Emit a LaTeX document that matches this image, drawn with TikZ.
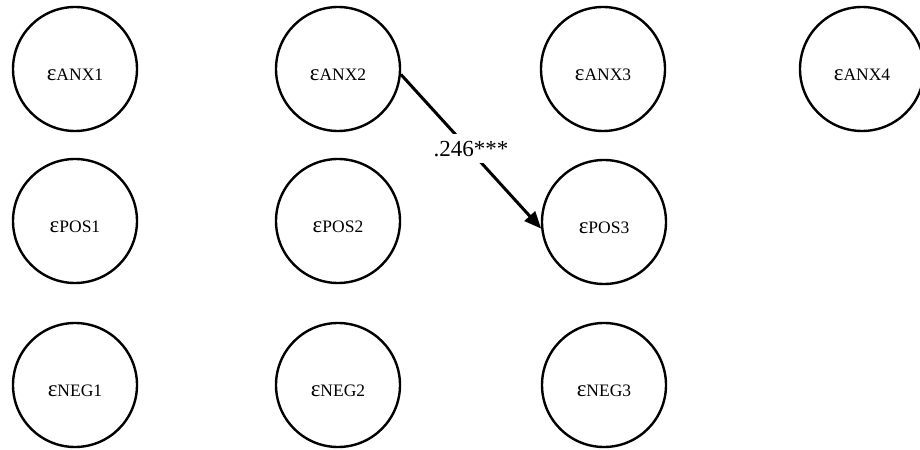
\documentclass[tikz,border=0pt]{standalone}
\usepackage{fontspec}
\setmainfont{Liberation Serif}
\usetikzlibrary{arrows.meta}

\tikzset{
  errcircle/.style={circle, draw, line width=2.4bp, minimum size=124bp, inner sep=0pt},
  errtext/.style={font=\fontsize{17.5bp}{20bp}\selectfont, inner sep=0pt},
  pathlabel/.style={fill=white, font=\fontsize{23bp}{26bp}\selectfont, inner xsep=3bp, inner ysep=7bp, yshift=3bp},
  patharrow/.style={line width=3bp, -{Triangle[length=17bp,width=14bp]}}
}

% epsilon followed by its index in a smaller size
\newcommand{\errterm}[1]{{\fontsize{23bp}{24bp}\selectfont ε}#1}

\begin{document}
\begin{tikzpicture}[x=1bp, y=-1bp]
  \useasboundingbox (0,0) rectangle (920,450);

  % residual terms, one row per construct, one column per wave
  \foreach \name/\lab/\cx/\cy in {
      anx1/ANX1/75/69, anx2/ANX2/338/69, anx3/ANX3/603/69, anx4/ANX4/862/69,
      pos1/POS1/75/221, pos2/POS2/338/221, pos3/POS3/604/222,
      neg1/NEG1/75/385, neg2/NEG2/338/385, neg3/NEG3/604/385} {
    \node[errcircle] (\name) at (\cx,\cy) {};
    \node[errtext] (\name-t) at (\cx,\cy+6) {\errterm{\lab}};
  }

  % correlated residual path
  \draw[patharrow] (anx2.-5) -- node[pathlabel] (coef) {.246***} (pos3.-174);
\end{tikzpicture}
\end{document}
